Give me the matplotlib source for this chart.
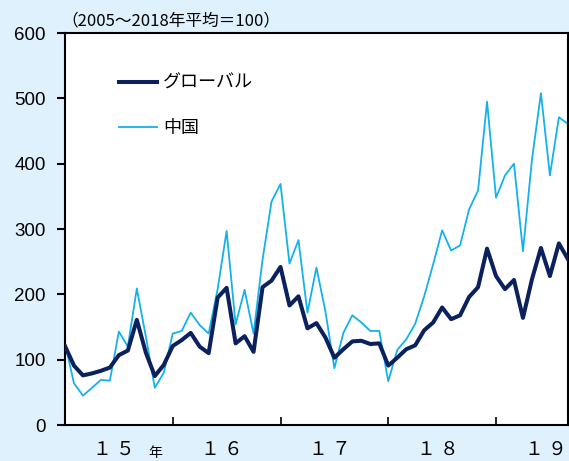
import matplotlib
matplotlib.use("Agg")
import matplotlib.pyplot as plt

# monthly index, Jan 2015 - Sep 2019 (2005-2018 average = 100)
global_idx = [121, 91, 76, 79, 83, 88, 107, 114, 161, 111, 75, 92,
              121, 130, 141, 120, 110, 195, 210, 125, 136, 112, 211, 221,
              242, 183, 197, 148, 156, 134, 103, 116, 128, 129, 124, 125,
              91, 103, 116, 122, 145, 157, 180, 162, 168, 196, 211, 270,
              228, 208, 222, 164, 223, 271, 228, 278, 254]
china_idx = [125, 64, 45, 57, 69, 68, 143, 120, 209, 136, 57, 80,
             140, 144, 172, 153, 140, 208, 297, 154, 207, 140, 253, 342,
             369, 247, 283, 172, 241, 174, 87, 141, 168, 157, 144, 144,
             67, 115, 131, 155, 197, 246, 298, 267, 275, 330, 359, 495,
             348, 382, 400, 266, 406, 508, 382, 471, 461]
year_labels = ["１ ５", "１ ６", "１ ７", "１ ８", "１ ９"]
y_ticks = [0, 100, 200, 300, 400, 500, 600]

jp = ["Noto Sans CJK JP", "DejaVu Sans"]
bg = "#dff1fd"
navy = "#0b215e"
cyan = "#14b1ec"

fig = plt.figure(figsize=(5.69, 4.61), dpi=100, facecolor=bg)
ax = fig.add_axes([0.1142, 0.0780, 0.8838, 0.8504])
ax.set_facecolor("white")

months = list(range(len(global_idx)))
ax.plot(months, china_idx, color=cyan, linewidth=1.3, label="中国", zorder=2)
ax.plot(months, global_idx, color=navy, linewidth=2.9, label="グローバル", zorder=3)

ax.set_xlim(0, len(global_idx) - 1)
ax.set_ylim(0, 600)

# y axis
ax.set_yticks(y_ticks)
ax.set_yticklabels([str(v) for v in y_ticks], fontfamily="Liberation Sans", fontsize=13.5)
ax.tick_params(axis="y", direction="out", length=6, width=1.5, pad=8)

# x axis: year boundaries as inside ticks, labels in between
ax.set_xticks([12, 24, 36, 48])
ax.set_xticklabels([])
ax.tick_params(axis="x", direction="in", length=6, width=1.2)
for k, lab in enumerate(year_labels):
    ax.text(5.5 + 12 * k, -21, lab, ha="center", va="top", fontsize=13.5,
            family=jp, clip_on=False)
ax.text(10.0, -32, "年", ha="center", va="top", fontsize=10, family=jp, clip_on=False)

for s in ax.spines.values():
    s.set_linewidth(1.5)
    s.set_color("black")

ax.text(-0.008, 1.01, "（2005～2018年平均＝100）", transform=ax.transAxes,
        ha="left", va="bottom", fontsize=12, family=jp)

# legend drawn with handles only
h, l = ax.get_legend_handles_labels()
leg = ax.legend(h[::-1], l[::-1], loc="upper left", bbox_to_anchor=(0.076, 0.937),
                frameon=False, prop={"family": jp, "size": 13},
                handlelength=2.1, handletextpad=0.3, labelspacing=1.5)

fig.savefig("out.png", dpi=100, facecolor=bg)
